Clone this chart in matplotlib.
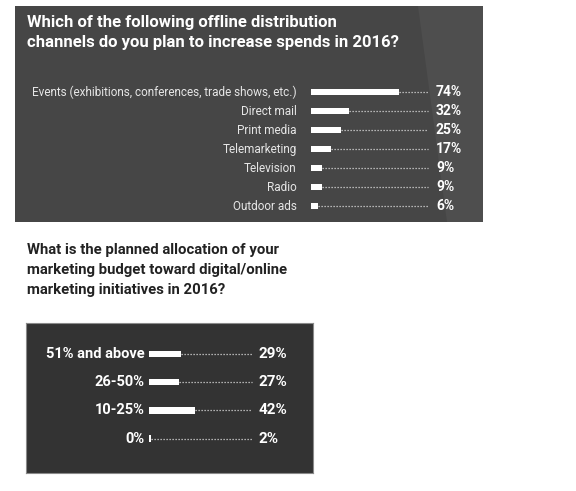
import numpy as np
import matplotlib
matplotlib.use("Agg")
from matplotlib import pyplot as plt

plt.rcParams['font.family'] = ['Roboto', 'DejaVu Sans']

# offline channels (top panel)
channels = ["Events (exhibitions, conferences, trade shows, etc.)", "Direct mail",
            "Print media", "Telemarketing", "Television", "Radio", "Outdoor ads"]
channel_pct = [74, 32, 25, 17, 9, 9, 6]
top_title = ["Which of the following offline distribution",
             "channels do you plan to increase spends in 2016?"]

# digital budget allocation (bottom panel)
budget_bins = ["51% and above", "26-50%", "10-25%", "0%"]
budget_pct = [29, 27, 42, 2]
bottom_title = ["What is the planned allocation of your",
                "marketing budget toward digital/online",
                "marketing initiatives in 2016?"]

W, H = 576, 491
fig = plt.figure(figsize=(W / 100, H / 100), dpi=100)
fig.patch.set_facecolor("white")


def panel(px_left, px_top, px_right, px_bottom, bar0, scale, row0, row_step, color):
    # axes covering the panel, data units = percent / row index
    ax = fig.add_axes([px_left / W, 1 - px_bottom / H,
                       (px_right - px_left) / W, (px_bottom - px_top) / H])
    ax.set_xlim((px_left - bar0) / scale, (px_right - bar0) / scale)
    ax.set_ylim((px_bottom - row0) / row_step, (px_top - row0) / row_step)
    ax.set_facecolor(color)
    ax.set_xticks([])
    ax.set_yticks([])
    return ax


# ---- top panel ----
ax1 = panel(15, 6, 483, 222, 311, 1.19, 92, 19, "#464646")
for s in ax1.spines.values():
    s.set_visible(False)
# faint lighter sheen on the right side
xl = ax1.get_xlim()
yl = ax1.get_ylim()
ax1.fill([xl[1] - 55, xl[1], xl[1], xl[1] - 30], [yl[1], yl[1], yl[0], yl[0]],
         color="#4e4e4e", zorder=0, lw=0)

y1 = np.arange(len(channels))
ax1.barh(y1, channel_pct, height=0.33, left=0, color="white", zorder=3)
ax1.hlines(y1, channel_pct, 98, colors="#d8d8d8", lw=0.9,
           linestyles=(0, (1, 1.4)), zorder=2)
for y, lab, v in zip(y1, channels, channel_pct):
    ax1.text(-12, y, lab, ha="right", va="center", color="#e6e6e6", fontsize=8.5)
    ax1.text(105, y, f"{v}%", ha="left", va="center", color="white",
             fontsize=10, fontweight="bold")

for i, line in enumerate(top_title):
    fig.text(27 / W, 1 - (27 + 20.5 * i) / H, line, ha="left", va="baseline",
             color="white", fontsize=12, fontweight="bold")

# ---- bottom panel ----
ax2 = panel(26, 323, 313, 473, 149.3, 1.09, 354, 28.2, "#333333")
for s in ax2.spines.values():
    s.set_color("#8a8a8a")
    s.set_linewidth(0.8)

y2 = np.arange(len(budget_bins))
ax2.barh(y2, budget_pct, height=0.22, left=0, color="white", zorder=3)
ax2.hlines(y2, budget_pct, 94, colors="#d8d8d8", lw=0.9,
           linestyles=(0, (1, 1.4)), zorder=2)
for y, lab, v in zip(y2, budget_bins, budget_pct):
    ax2.text(-4.5, y, lab, ha="right", va="center", color="white",
             fontsize=10.5, fontweight="bold")
    ax2.text(100.5, y, f"{v}%", ha="left", va="center", color="white",
             fontsize=11, fontweight="bold")

for i, line in enumerate(bottom_title):
    fig.text(27 / W, 1 - (254 + 20 * i) / H, line, ha="left", va="baseline",
             color="#222222", fontsize=10.75, fontweight="bold")

fig.savefig("out.png", dpi=100, facecolor="white")
